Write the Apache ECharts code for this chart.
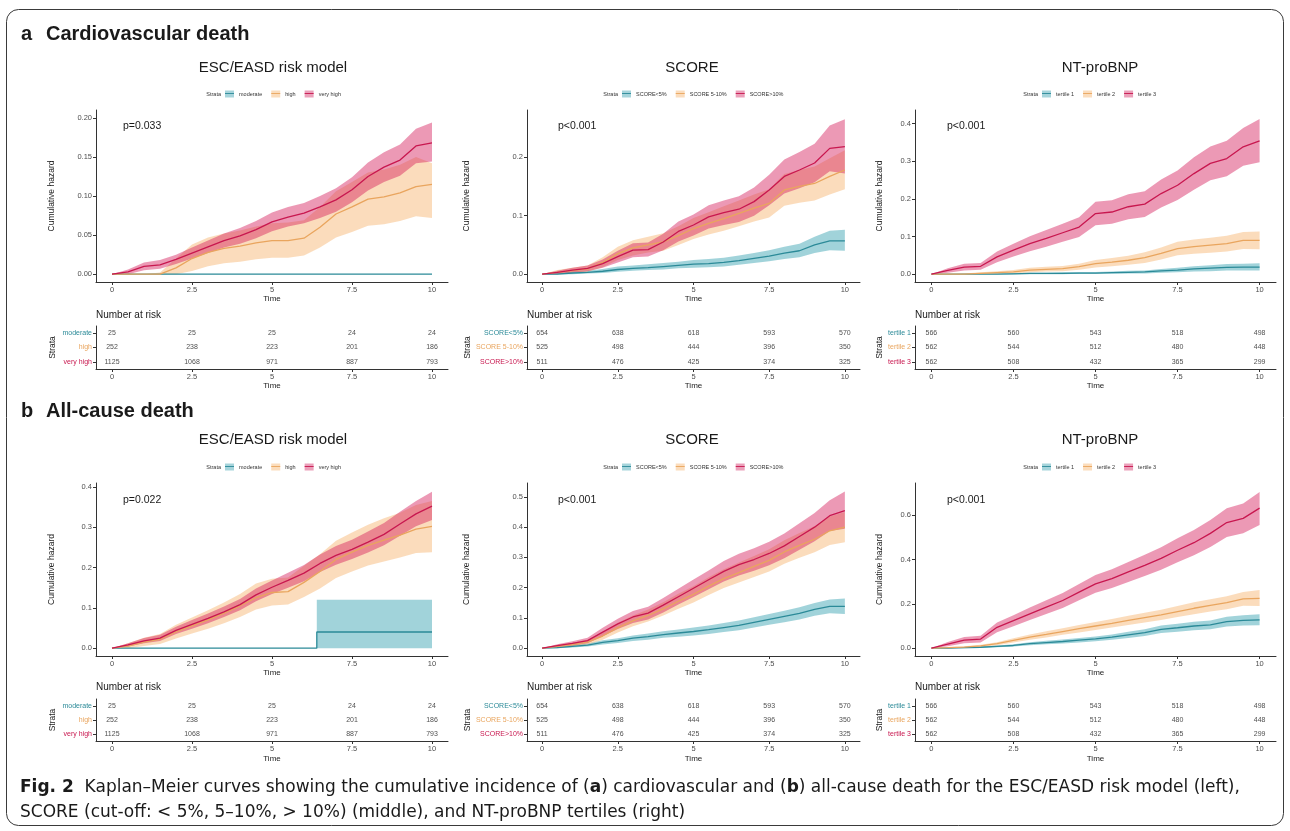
<!DOCTYPE html>
<html><head><meta charset="utf-8">
<script src="https://cdn.jsdelivr.net/npm/echarts@6.0.0/dist/echarts.min.js"></script>
<style>html,body{margin:0;padding:0;background:#fff}#c{width:1290px;height:831px}</style>
</head><body><div id="c"></div>
<script>
// ---------------- DATA ----------------
const TIME = [0,0.5,1,1.5,2,2.5,3,3.5,4,4.5,5,5.5,6,6.5,7,7.5,8,8.5,9,9.5,10];
const X_TICKS = [0,2.5,5,7.5,10];
const RISK_TIMES = [0,2.5,5,7.5,10];

const ESC_STRATA = ['moderate','high','very high'];
const SCORE_STRATA = ['SCORE<5%','SCORE 5-10%','SCORE>10%'];
const BNP_STRATA = ['tertile 1','tertile 2','tertile 3'];

// y tick labels per panel
const cvEscYTicks = [0,0.05,0.1,0.15,0.2];
const cvScoreYTicks = [0,0.1,0.2];
const cvBnpYTicks = [0,0.1,0.2,0.3,0.4];
const acEscYTicks = [0,0.1,0.2,0.3,0.4];
const acScoreYTicks = [0,0.1,0.2,0.3,0.4,0.5];
const acBnpYTicks = [0,0.2,0.4,0.6];

// (a) Cardiovascular death — ESC/EASD
const cvEscModerateEst = [0,0,0,0,0,0,0,0,0,0,0,0,0,0,0,0,0,0,0,0,0];
const cvEscModerateLo  = [0,0,0,0,0,0,0,0,0,0,0,0,0,0,0,0,0,0,0,0,0];
const cvEscModerateHi  = [0,0,0,0,0,0,0,0,0,0,0,0,0,0,0,0,0,0,0,0,0];
const cvEscHighEst = [0,0,0,0,0.008,0.020,0.028,0.033,0.036,0.040,0.043,0.043,0.046,0.060,0.077,0.086,0.096,0.099,0.104,0.112,0.115];
const cvEscHighLo  = [0,0,0,0,0,0.004,0.010,0.014,0.016,0.019,0.021,0.021,0.024,0.034,0.047,0.054,0.062,0.064,0.068,0.074,0.072];
const cvEscHighHi  = [0,0,0,0.002,0.020,0.038,0.047,0.052,0.056,0.061,0.065,0.066,0.069,0.086,0.106,0.118,0.130,0.134,0.140,0.150,0.142];
const cvEscVeryHighEst = [0,0.003,0.010,0.012,0.019,0.027,0.035,0.043,0.049,0.057,0.067,0.073,0.078,0.086,0.095,0.108,0.125,0.137,0.146,0.164,0.168];
const cvEscVeryHighLo  = [0,0,0.005,0.007,0.013,0.020,0.027,0.034,0.039,0.046,0.055,0.061,0.065,0.072,0.080,0.092,0.107,0.118,0.126,0.142,0.144];
const cvEscVeryHighHi  = [0,0.006,0.015,0.018,0.025,0.034,0.043,0.052,0.059,0.068,0.079,0.086,0.091,0.100,0.110,0.124,0.143,0.156,0.166,0.186,0.194];

// (a) Cardiovascular death — SCORE
const cvScoreLowEst = [0,0,0.002,0.003,0.005,0.008,0.010,0.011,0.013,0.015,0.017,0.018,0.020,0.023,0.027,0.031,0.036,0.040,0.050,0.057,0.057];
const cvScoreLowLo  = [0,0,0,0.001,0.002,0.004,0.006,0.007,0.008,0.010,0.011,0.012,0.013,0.016,0.019,0.022,0.026,0.029,0.036,0.041,0.040];
const cvScoreLowHi  = [0,0.001,0.004,0.006,0.009,0.013,0.015,0.017,0.019,0.021,0.024,0.026,0.028,0.032,0.036,0.041,0.047,0.052,0.064,0.074,0.076];
const cvScoreMidEst = [0,0.003,0.006,0.009,0.020,0.035,0.045,0.050,0.055,0.066,0.078,0.087,0.095,0.104,0.113,0.121,0.144,0.150,0.155,0.167,0.178];
const cvScoreMidLo  = [0,0,0.002,0.004,0.012,0.024,0.032,0.037,0.040,0.050,0.060,0.068,0.074,0.082,0.090,0.097,0.117,0.122,0.126,0.136,0.145];
const cvScoreMidHi  = [0,0.007,0.011,0.015,0.029,0.047,0.058,0.064,0.070,0.082,0.096,0.106,0.116,0.126,0.136,0.145,0.171,0.178,0.184,0.198,0.212];
const cvScoreHighEst = [0,0.003,0.007,0.010,0.018,0.030,0.041,0.042,0.055,0.073,0.084,0.098,0.105,0.111,0.124,0.144,0.167,0.178,0.190,0.215,0.218];
const cvScoreHighLo  = [0,0,0.003,0.005,0.011,0.020,0.029,0.030,0.041,0.056,0.066,0.078,0.084,0.089,0.100,0.118,0.138,0.147,0.157,0.176,0.172];
const cvScoreHighHi  = [0,0.006,0.011,0.015,0.025,0.040,0.053,0.054,0.069,0.090,0.102,0.118,0.126,0.133,0.148,0.170,0.196,0.209,0.223,0.254,0.265];

// (a) Cardiovascular death — NT-proBNP
const cvBnpT1Est = [0,0,0,0,0,0.001,0.002,0.002,0.002,0.003,0.003,0.004,0.005,0.006,0.009,0.011,0.014,0.016,0.018,0.019,0.019];
const cvBnpT1Lo  = [0,0,0,0,0,0,0,0,0,0.001,0.001,0.001,0.002,0.002,0.004,0.005,0.007,0.008,0.010,0.010,0.010];
const cvBnpT1Hi  = [0,0,0,0,0.001,0.003,0.004,0.004,0.005,0.006,0.006,0.007,0.009,0.010,0.014,0.017,0.021,0.024,0.027,0.028,0.029];
const cvBnpT2Est = [0,0,0,0.002,0.004,0.006,0.011,0.013,0.015,0.020,0.028,0.032,0.037,0.044,0.055,0.068,0.073,0.077,0.081,0.090,0.090];
const cvBnpT2Lo  = [0,0,0,0,0.001,0.002,0.005,0.007,0.008,0.012,0.018,0.021,0.025,0.030,0.039,0.050,0.054,0.057,0.060,0.067,0.066];
const cvBnpT2Hi  = [0,0,0.002,0.005,0.008,0.011,0.017,0.020,0.022,0.028,0.038,0.043,0.049,0.058,0.071,0.086,0.092,0.097,0.102,0.112,0.113];
const cvBnpT3Est = [0,0.010,0.019,0.021,0.046,0.064,0.081,0.095,0.110,0.125,0.161,0.165,0.179,0.186,0.214,0.236,0.267,0.294,0.307,0.338,0.354];
const cvBnpT3Lo  = [0,0.004,0.010,0.012,0.032,0.047,0.061,0.073,0.086,0.099,0.130,0.134,0.146,0.152,0.177,0.197,0.224,0.249,0.260,0.288,0.297];
const cvBnpT3Hi  = [0,0.016,0.028,0.030,0.060,0.081,0.101,0.117,0.134,0.151,0.192,0.196,0.212,0.220,0.251,0.275,0.310,0.339,0.354,0.388,0.412];

// (b) All-cause death — ESC/EASD
const acEscModerateTime = [0,6.4,6.4,10];
const acEscModerateEst = [0,0,0.04,0.04];
const acEscModerateLo  = [0,0,0,0];
const acEscModerateHi  = [0,0,0.12,0.12];
const acEscHighEst = [0,0.005,0.015,0.022,0.040,0.055,0.070,0.087,0.105,0.125,0.138,0.140,0.163,0.190,0.220,0.238,0.255,0.268,0.280,0.295,0.302];
const acEscHighLo  = [0,0,0.005,0.010,0.024,0.036,0.048,0.062,0.077,0.096,0.106,0.108,0.127,0.148,0.174,0.190,0.205,0.215,0.225,0.236,0.238];
const acEscHighHi  = [0,0.012,0.026,0.035,0.058,0.076,0.094,0.113,0.134,0.160,0.172,0.175,0.204,0.233,0.266,0.287,0.306,0.322,0.336,0.355,0.365];
const acEscVeryHighEst = [0,0.008,0.018,0.025,0.044,0.059,0.074,0.090,0.108,0.132,0.151,0.168,0.186,0.210,0.230,0.245,0.263,0.282,0.308,0.333,0.352];
const acEscVeryHighLo  = [0,0.004,0.012,0.018,0.035,0.048,0.062,0.077,0.094,0.116,0.134,0.150,0.166,0.189,0.207,0.221,0.237,0.255,0.279,0.302,0.318];
const acEscVeryHighHi  = [0,0.012,0.025,0.033,0.053,0.070,0.086,0.103,0.122,0.148,0.168,0.187,0.206,0.232,0.253,0.269,0.289,0.310,0.338,0.365,0.388];

// (b) All-cause death — SCORE
const acScoreLowEst = [0,0.002,0.006,0.010,0.019,0.025,0.033,0.038,0.045,0.050,0.055,0.061,0.068,0.075,0.085,0.095,0.105,0.115,0.128,0.138,0.138];
const acScoreLowLo  = [0,0,0.002,0.005,0.012,0.017,0.024,0.028,0.034,0.038,0.042,0.047,0.053,0.059,0.068,0.077,0.086,0.095,0.107,0.115,0.113];
const acScoreLowHi  = [0,0.004,0.010,0.015,0.026,0.033,0.042,0.048,0.056,0.062,0.068,0.075,0.083,0.091,0.102,0.113,0.124,0.135,0.149,0.161,0.164];
const acScoreMidEst = [0,0.006,0.012,0.020,0.040,0.068,0.090,0.108,0.130,0.155,0.178,0.205,0.230,0.250,0.270,0.290,0.318,0.340,0.360,0.388,0.400];
const acScoreMidLo  = [0,0.002,0.006,0.012,0.028,0.052,0.072,0.088,0.108,0.130,0.151,0.176,0.199,0.217,0.235,0.253,0.279,0.299,0.317,0.341,0.350];
const acScoreMidHi  = [0,0.010,0.018,0.028,0.052,0.084,0.108,0.128,0.152,0.180,0.205,0.234,0.261,0.283,0.305,0.327,0.357,0.381,0.403,0.435,0.450];
const acScoreHighEst = [0,0.008,0.016,0.025,0.053,0.080,0.103,0.116,0.142,0.170,0.198,0.226,0.254,0.276,0.293,0.313,0.338,0.369,0.400,0.438,0.455];
const acScoreHighLo  = [0,0.003,0.009,0.016,0.039,0.063,0.083,0.095,0.118,0.144,0.169,0.195,0.220,0.240,0.256,0.274,0.297,0.325,0.353,0.387,0.395];
const acScoreHighHi  = [0,0.013,0.023,0.034,0.067,0.097,0.123,0.137,0.166,0.196,0.227,0.257,0.288,0.312,0.330,0.352,0.379,0.413,0.447,0.489,0.518];

// (b) All-cause death — NT-proBNP
const acBnpT1Est = [0,0,0.002,0.004,0.008,0.012,0.020,0.025,0.030,0.036,0.042,0.050,0.060,0.070,0.085,0.092,0.100,0.105,0.120,0.125,0.128];
const acBnpT1Lo  = [0,0,0,0.001,0.004,0.007,0.013,0.017,0.021,0.026,0.031,0.038,0.046,0.055,0.068,0.074,0.081,0.085,0.098,0.102,0.103];
const acBnpT1Hi  = [0,0.001,0.004,0.007,0.012,0.017,0.027,0.033,0.039,0.046,0.053,0.062,0.074,0.085,0.102,0.110,0.119,0.125,0.142,0.148,0.153];
const acBnpT2Est = [0,0.002,0.005,0.010,0.020,0.035,0.050,0.062,0.075,0.088,0.100,0.112,0.125,0.138,0.150,0.165,0.180,0.193,0.205,0.222,0.225];
const acBnpT2Lo  = [0,0,0.002,0.005,0.013,0.025,0.038,0.048,0.060,0.071,0.082,0.093,0.104,0.116,0.127,0.140,0.153,0.165,0.176,0.191,0.190];
const acBnpT2Hi  = [0,0.004,0.008,0.015,0.027,0.045,0.062,0.076,0.090,0.105,0.118,0.131,0.146,0.160,0.173,0.190,0.207,0.221,0.234,0.253,0.262];
const acBnpT3Est = [0,0.018,0.036,0.041,0.094,0.124,0.155,0.185,0.215,0.253,0.290,0.314,0.344,0.374,0.405,0.442,0.476,0.518,0.567,0.586,0.632];
const acBnpT3Lo  = [0,0.008,0.022,0.026,0.072,0.099,0.127,0.154,0.181,0.216,0.250,0.272,0.299,0.326,0.354,0.388,0.419,0.457,0.502,0.519,0.556];
const acBnpT3Hi  = [0,0.028,0.050,0.056,0.116,0.149,0.183,0.216,0.249,0.290,0.330,0.356,0.389,0.422,0.456,0.496,0.533,0.579,0.632,0.653,0.705];

// Number at risk
const escRiskModerate = [25,25,25,24,24];
const escRiskHigh = [252,238,223,201,186];
const escRiskVeryHigh = [1125,1068,971,887,793];
const scoreRiskLow = [654,638,618,593,570];
const scoreRiskMid = [525,498,444,396,350];
const scoreRiskHigh = [511,476,425,374,325];
const bnpRiskT1 = [566,560,543,518,498];
const bnpRiskT2 = [562,544,512,480,448];
const bnpRiskT3 = [562,508,432,365,299];

// ---------------- STYLE / LAYOUT ----------------
const FONT = '"Liberation Sans", Arial, Helvetica, sans-serif';
const LINE_COL = ['#2B8A98', '#E9A55E', '#C8174F'];
const BAND_COL = ['rgba(32,150,168,0.42)', 'rgba(245,168,88,0.40)', 'rgba(212,28,92,0.45)'];
const KEY_COL = ['#A6D4DB', '#FBDDBD', '#EBA0BA'];
const AX = '#333333';

const COLS = [
  {left:96, width:352, titleX:273, legendLeft:225, pX:123, yNameGap:39.5, strataGap:39},
  {left:527, width:333, titleX:692, legendLeft:622, pX:558, yNameGap:55.5, strataGap:55},
  {left:915, width:361, titleX:1100, legendLeft:1042, pX:947, yNameGap:30.5, strataGap:30}
];
const ROWS = [
  {plotTop:110, plotH:172, titleY:68, legendY:94, pY:126, tableTop:326, tableH:43, narY:315, headY:34, letter:'a', head:'Cardiovascular death', tGapPlot:10, tGapTable:13},
  {plotTop:483, plotH:173, titleY:440, legendY:467, pY:500, tableTop:699, tableH:42, narY:687, headY:411, letter:'b', head:'All-cause death', tGapPlot:10, tGapTable:14}
];

const PANELS = [
  {row:0,col:0,title:'ESC/EASD risk model',p:'p=0.033',strata:ESC_STRATA,yTicks:cvEscYTicks,dec:2,yMin:-0.01,yMax:0.21,
   curves:[[TIME,cvEscModerateEst,cvEscModerateLo,cvEscModerateHi],[TIME,cvEscHighEst,cvEscHighLo,cvEscHighHi],[TIME,cvEscVeryHighEst,cvEscVeryHighLo,cvEscVeryHighHi]],
   risk:[escRiskModerate,escRiskHigh,escRiskVeryHigh]},
  {row:0,col:1,title:'SCORE',p:'p<0.001',strata:SCORE_STRATA,yTicks:cvScoreYTicks,dec:1,yMin:-0.0134,yMax:0.2806,
   curves:[[TIME,cvScoreLowEst,cvScoreLowLo,cvScoreLowHi],[TIME,cvScoreMidEst,cvScoreMidLo,cvScoreMidHi],[TIME,cvScoreHighEst,cvScoreHighLo,cvScoreHighHi]],
   risk:[scoreRiskLow,scoreRiskMid,scoreRiskHigh]},
  {row:0,col:2,title:'NT-proBNP',p:'p<0.001',strata:BNP_STRATA,yTicks:cvBnpYTicks,dec:1,yMin:-0.0207,yMax:0.4357,
   curves:[[TIME,cvBnpT1Est,cvBnpT1Lo,cvBnpT1Hi],[TIME,cvBnpT2Est,cvBnpT2Lo,cvBnpT2Hi],[TIME,cvBnpT3Est,cvBnpT3Lo,cvBnpT3Hi]],
   risk:[bnpRiskT1,bnpRiskT2,bnpRiskT3]},
  {row:1,col:0,title:'ESC/EASD risk model',p:'p=0.022',strata:ESC_STRATA,yTicks:acEscYTicks,dec:1,yMin:-0.0195,yMax:0.4095,
   curves:[[acEscModerateTime,acEscModerateEst,acEscModerateLo,acEscModerateHi],[TIME,acEscHighEst,acEscHighLo,acEscHighHi],[TIME,acEscVeryHighEst,acEscVeryHighLo,acEscVeryHighHi]],
   risk:[escRiskModerate,escRiskHigh,escRiskVeryHigh]},
  {row:1,col:1,title:'SCORE',p:'p<0.001',strata:SCORE_STRATA,yTicks:acScoreYTicks,dec:1,yMin:-0.026,yMax:0.546,
   curves:[[TIME,acScoreLowEst,acScoreLowLo,acScoreLowHi],[TIME,acScoreMidEst,acScoreMidLo,acScoreMidHi],[TIME,acScoreHighEst,acScoreHighLo,acScoreHighHi]],
   risk:[scoreRiskLow,scoreRiskMid,scoreRiskHigh]},
  {row:1,col:2,title:'NT-proBNP',p:'p<0.001',strata:BNP_STRATA,yTicks:acBnpYTicks,dec:1,yMin:-0.0355,yMax:0.7455,
   curves:[[TIME,acBnpT1Est,acBnpT1Lo,acBnpT1Hi],[TIME,acBnpT2Est,acBnpT2Lo,acBnpT2Hi],[TIME,acBnpT3Est,acBnpT3Lo,acBnpT3Hi]],
   risk:[bnpRiskT1,bnpRiskT2,bnpRiskT3]}
];

// ---------------- BUILD OPTION ----------------
const grid = [], xAxis = [], yAxis = [], series = [], legend = [], graphic = [];
const tickLabel = {fontSize:7.5, color:'#4d4d4d', fontFamily:FONT};
const axisNameStyle = {fontSize:8.5, color:'#222', fontFamily:FONT};

function xAxisCfg(gi, gap){
  return {type:'value', gridIndex:gi, min:-0.5, max:10.5,
    axisLine:{show:true, onZero:false, lineStyle:{color:AX, width:1}},
    axisTick:{show:true, customValues:X_TICKS, length:3, lineStyle:{color:AX, width:1}},
    axisLabel:Object.assign({customValues:X_TICKS, margin:3.5}, tickLabel),
    splitLine:{show:false},
    name:'Time', nameLocation:'middle', nameGap:gap,
    nameTextStyle:{fontSize:8, color:'#222', fontFamily:FONT}};
}

PANELS.forEach((P, pi) => {
  const C = COLS[P.col], R = ROWS[P.row];
  const gPlot = grid.length;
  grid.push({left:C.left, top:R.plotTop, width:C.width, height:R.plotH, containLabel:false});
  const gTab = grid.length;
  grid.push({left:C.left, top:R.tableTop, width:C.width, height:R.tableH, containLabel:false});

  // plot axes
  xAxis.push(xAxisCfg(gPlot, R.tGapPlot));
  yAxis.push({type:'value', gridIndex:gPlot, min:P.yMin, max:P.yMax,
    axisLine:{show:true, onZero:false, lineStyle:{color:AX, width:1}},
    axisTick:{show:true, customValues:P.yTicks, length:3, lineStyle:{color:AX, width:1}},
    axisLabel:Object.assign({customValues:P.yTicks, margin:4, formatter:v=>Number(v).toFixed(P.dec)}, tickLabel),
    splitLine:{show:false},
    name:'Cumulative hazard', nameLocation:'middle', nameRotate:90, nameGap:C.yNameGap, nameTextStyle:axisNameStyle});
  // table axes
  xAxis.push(xAxisCfg(gTab, R.tGapTable));
  const rich = {};
  LINE_COL.forEach((c,i)=>{ rich['s'+i] = {color:c, fontSize:7, fontFamily:FONT}; });
  yAxis.push({type:'category', gridIndex:gTab, data:P.strata, inverse:true,
    axisLine:{show:true, onZero:false, lineStyle:{color:AX, width:1}},
    axisTick:{show:true, alignWithLabel:true, length:3, lineStyle:{color:AX}},
    axisLabel:{interval:0, margin:4, formatter:(v,i)=>'{s'+i+'|'+v+'}', rich:rich},
    splitLine:{show:false},
    name:'Strata', nameLocation:'middle', nameRotate:90, nameGap:C.strataGap,
    nameTextStyle:{fontSize:8.5, color:'#222', fontFamily:FONT}});

  // bands (custom polygons through the axis scales)
  P.curves.forEach((cv, si) => {
    const [t, est, lo, hi] = cv;
    series.push({type:'custom', xAxisIndex:gPlot, yAxisIndex:gPlot, silent:true, clip:true, z:1,
      data:t.map((x,i)=>[x, lo[i], hi[i]]), encode:{x:0, y:[1,2]},
      renderItem:(params, api)=>{
        if (params.dataIndex !== 0) return null;
        const pts = [];
        for (let i=0;i<t.length;i++) pts.push(api.coord([t[i], hi[i]]));
        for (let i=t.length-1;i>=0;i--) pts.push(api.coord([t[i], lo[i]]));
        return {type:'polygon', shape:{points:pts}, style:{fill:BAND_COL[si], stroke:null}};
      }});
  });
  // estimate lines
  P.curves.forEach((cv, si) => {
    const [t, est] = cv;
    series.push({type:'line', name:P.strata[si], xAxisIndex:gPlot, yAxisIndex:gPlot,
      data:t.map((x,i)=>[x, est[i]]), symbol:'none', silent:true, z:3,
      lineStyle:{color:LINE_COL[si], width:1.3}, itemStyle:{color:LINE_COL[si]}});
  });
  // risk table numbers
  const rdata = [];
  P.risk.forEach((arr, si) => arr.forEach((n, j) => rdata.push([RISK_TIMES[j], si, n])));
  series.push({type:'scatter', xAxisIndex:gTab, yAxisIndex:gTab, data:rdata, symbolSize:1, silent:true,
    itemStyle:{color:'rgba(0,0,0,0)'},
    label:{show:true, position:'inside', formatter:p=>String(p.value[2]), fontSize:7, color:'#222', fontFamily:FONT}});

  // legends (fill key + line key overlay)
  const lgBase = {left:C.legendLeft, top:R.legendY-3.5, orient:'horizontal', itemWidth:9, itemHeight:7, itemGap:9,
    padding:0, selectedMode:false};
  legend.push(Object.assign({}, lgBase, {textStyle:{fontSize:5.5, color:'#333', fontFamily:FONT},
    data:P.strata.map((n,i)=>({name:n, icon:'rect', itemStyle:{color:KEY_COL[i], borderWidth:0}}))}));
  legend.push(Object.assign({}, lgBase, {textStyle:{fontSize:5.5, color:'rgba(0,0,0,0)', fontFamily:FONT},
    data:P.strata.map((n,i)=>({name:n, icon:'path://M0,0L10,0L10,1L0,1Z', itemStyle:{color:LINE_COL[i], borderWidth:0}}))}));

  // texts
  graphic.push({type:'text', x:C.legendLeft - 4, y:R.legendY, silent:true,
    style:{text:'Strata', align:'right', verticalAlign:'middle', font:'5.5px '+FONT, fill:'#333'}});
  graphic.push({type:'text', x:C.titleX, y:R.titleY, silent:true,
    style:{text:P.title, align:'center', verticalAlign:'middle', font:'15px '+FONT, fill:'#1a1a1a'}});
  graphic.push({type:'text', x:C.pX, y:R.pY, silent:true,
    style:{text:P.p, align:'left', verticalAlign:'middle', font:'10.5px '+FONT, fill:'#1a1a1a'}});
  graphic.push({type:'text', x:C.left, y:R.narY, silent:true,
    style:{text:'Number at risk', align:'left', verticalAlign:'middle', font:'10px '+FONT, fill:'#1a1a1a'}});
});

// row headers
ROWS.forEach(R => {
  graphic.push({type:'text', x:21, y:R.headY, silent:true,
    style:{text:R.letter, align:'left', verticalAlign:'middle', font:'bold 20px '+FONT, fill:'#1a1a1a'}});
  graphic.push({type:'text', x:46, y:R.headY, silent:true,
    style:{text:R.head, align:'left', verticalAlign:'middle', font:'bold 20px '+FONT, fill:'#1a1a1a'}});
});

// frame
graphic.push({type:'rect', silent:true, shape:{x:6.5, y:9.5, width:1277, height:816, r:12},
  style:{fill:'none', stroke:'#3a3a3a', lineWidth:1}});

// caption
const CAP_FONT = '"DejaVu Sans", "Liberation Sans", sans-serif';
graphic.push({type:'text', x:20, y:775, silent:true,
  style:{
    text:'{b|Fig. 2}  Kaplan–Meier curves showing the cumulative incidence of ({b|a}) cardiovascular and ({b|b}) all-cause death for the ESC/EASD risk model (left),\nSCORE (cut-off: < 5%, 5–10%, > 10%) (middle), and NT-proBNP tertiles (right)',
    rich:{b:{fontWeight:'bold', fontSize:17, fontFamily:CAP_FONT, fill:'#1a1a1a', lineHeight:25}},
    fontSize:17, fontFamily:CAP_FONT, fill:'#1a1a1a', lineHeight:25,
    align:'left', verticalAlign:'top'
  }});

const chart = echarts.init(document.getElementById('c'), null, {renderer:'canvas'});
chart.setOption({
  backgroundColor:'#ffffff',
  animation:false,
  grid, xAxis, yAxis, series, legend, graphic
});
</script></body></html>
